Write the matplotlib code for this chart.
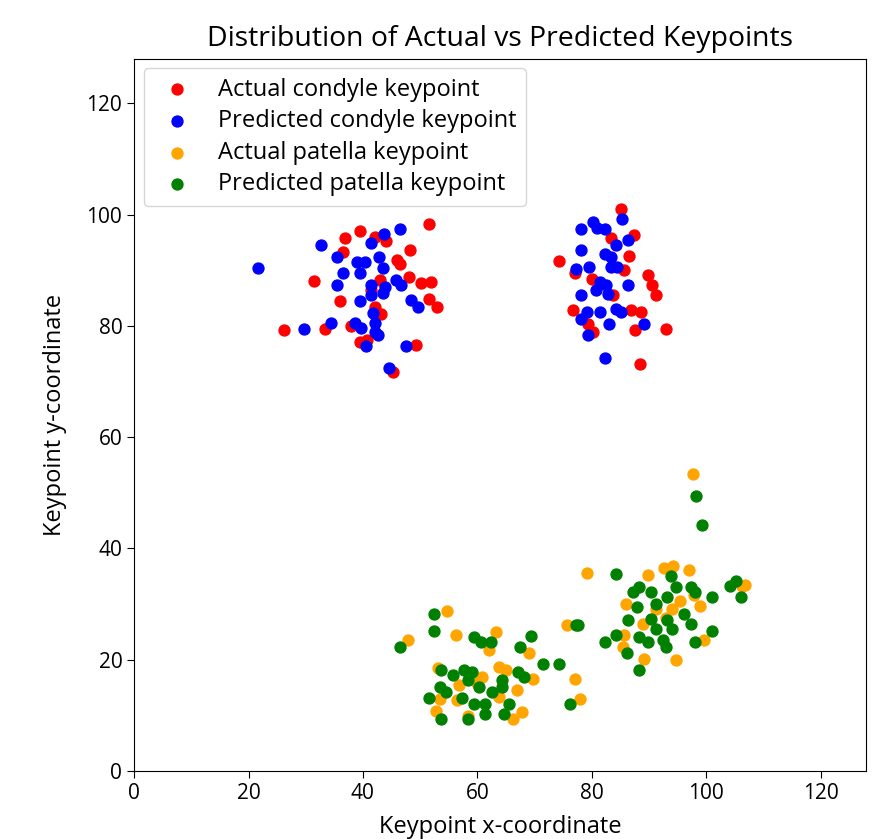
import matplotlib
matplotlib.use("Agg")
import matplotlib.pyplot as plt

plt.rcParams["font.family"] = ["Open Sans", "DejaVu Sans"]

# condyle keypoints (x, y)
actual_condyle_x = [51.6, 39.5, 36.8, 44.0, 42.1, 48.2, 36.6, 46.0, 46.4, 31.5, 48.1, 50.1,
                    51.9, 43.0, 36.0, 51.6, 52.9, 42.1, 43.2, 26.2, 33.3, 38.0, 39.5, 40.8,
                    49.3, 45.3, 41.5,
                    85.1, 87.4, 83.4, 86.6, 74.3, 89.9, 90.6, 91.2, 77.0, 85.7, 76.8, 88.6,
                    87.6, 92.9, 80.2, 79.4, 88.5, 83.7, 86.9, 80.0]
actual_condyle_y = [98.3, 97.0, 95.8, 95.2, 96.0, 93.6, 93.3, 91.8, 91.2, 88.1, 88.7, 87.7,
                    87.9, 88.2, 84.5, 84.8, 83.3, 83.4, 82.2, 79.3, 79.5, 79.9, 77.1, 77.4,
                    76.5, 71.7, 86.4,
                    101.0, 96.3, 95.7, 92.6, 91.6, 89.1, 87.3, 85.5, 89.5, 90.0, 82.8, 82.5,
                    79.2, 79.4, 78.9, 80.4, 73.2, 85.5, 82.8, 88.5]

pred_condyle_x = [21.7, 32.7, 46.5, 43.6, 41.5, 35.5, 38.9, 40.3, 42.9, 43.5, 36.6, 39.5,
                  35.5, 41.5, 43.8, 45.8, 46.7, 43.5, 41.5, 39.5, 48.4, 49.6, 41.8, 34.5,
                  38.6, 29.7, 39.7, 42.1, 42.1, 42.7, 40.5, 47.5, 44.5,
                  85.3, 80.2, 78.2, 82.3, 81.0, 86.3, 84.3, 78.2, 82.4, 83.4, 77.3, 79.6,
                  83.4, 84.5, 81.4, 82.5, 86.3, 80.8, 78.2, 82.8, 84.3, 85.1, 81.4, 79.1,
                  78.2, 89.2, 83.1, 79.4, 82.3]
pred_condyle_y = [90.4, 94.5, 97.4, 96.5, 94.8, 92.4, 91.5, 91.5, 92.4, 90.4, 89.5, 89.5,
                  87.3, 87.3, 87.0, 88.2, 87.3, 85.9, 85.5, 84.5, 84.6, 83.4, 82.3, 80.5,
                  80.5, 79.4, 79.6, 80.5, 78.9, 78.3, 76.3, 76.4, 72.4,
                  99.2, 98.7, 97.4, 97.4, 97.6, 95.4, 94.5, 93.6, 93.0, 92.4, 90.3, 90.5,
                  90.6, 90.6, 87.9, 87.3, 87.4, 86.4, 85.5, 85.8, 83.1, 82.5, 82.5, 82.4,
                  81.3, 80.4, 80.4, 78.3, 74.2]

# patella keypoints (x, y)
actual_patella_x = [54.7, 47.9, 56.2, 63.2, 62.0, 69.0, 75.6, 53.1, 63.8, 60.9, 69.8, 77.1,
                    56.8, 66.9, 53.4, 56.5, 63.8, 77.9, 52.8, 67.8, 66.2, 58.3, 60.0, 65.0,
                    97.7, 79.1, 89.8, 92.7, 94.2, 97.0, 106.2, 86.0, 94.1, 99.0, 88.9, 85.7,
                    99.6, 85.4, 89.2, 94.8, 91.2, 97.9, 106.8, 93.0, 95.5]
actual_patella_y = [28.8, 23.5, 24.4, 25.0, 21.7, 21.2, 26.2, 18.6, 18.7, 16.9, 16.6, 16.6,
                    15.4, 14.5, 13.0, 12.8, 13.3, 13.0, 10.8, 10.6, 9.4, 9.9, 15.8, 18.2,
                    53.4, 35.6, 35.2, 36.4, 36.8, 36.1, 33.2, 30.1, 29.2, 29.6, 26.5, 24.4,
                    23.5, 22.3, 20.2, 20.0, 29.2, 31.6, 33.5, 27.5, 30.5]

pred_patella_x = [52.5, 52.5, 46.4, 59.5, 60.6, 62.4, 69.4, 67.4, 77.3, 53.6, 57.7, 59.1,
                  55.7, 67.2, 68.1, 71.4, 74.3, 64.3, 58.3, 53.4, 54.5, 60.3, 64.3, 62.6,
                  51.6, 57.4, 59.5, 61.4, 65.5, 64.6, 61.4, 53.6, 58.4, 76.2,
                  98.3, 99.2, 84.3, 93.8, 88.3, 87.2, 90.3, 94.7, 97.3, 98.1, 93.2, 101.1,
                  104.2, 105.3, 106.1, 91.2, 88.0, 96.1, 86.3, 90.3, 93.2, 97.3, 91.2, 94.1,
                  101.0, 77.6, 84.3, 82.4, 88.3, 89.8, 92.4, 92.9, 98.1, 86.2, 88.2]
pred_patella_y = [28.2, 25.2, 22.2, 24.1, 23.2, 23.2, 24.2, 22.2, 26.2, 18.1, 18.1, 17.8,
                  17.2, 17.8, 16.9, 19.3, 19.2, 16.3, 16.3, 15.1, 14.2, 15.1, 15.1, 14.2,
                  13.2, 13.2, 12.1, 12.1, 12.1, 10.3, 10.2, 9.3, 9.3, 12.1,
                  49.4, 44.3, 35.4, 35.0, 33.1, 32.2, 32.2, 33.1, 33.1, 32.2, 31.3, 31.3,
                  33.2, 34.2, 31.3, 30.1, 29.5, 28.3, 27.2, 27.4, 27.1, 26.4, 25.6, 25.6,
                  25.2, 26.2, 24.4, 23.2, 24.1, 23.2, 23.5, 22.3, 23.2, 21.2, 18.2]

fig = plt.figure(figsize=(8.94, 8.39), dpi=100)
ax = fig.add_axes([0.150, 0.081, 0.819, 0.849])

ax.scatter(actual_condyle_x, actual_condyle_y, c="red", s=62, label="Actual condyle keypoint")
ax.scatter(pred_condyle_x, pred_condyle_y, c="blue", s=62, label="Predicted condyle keypoint")
ax.scatter(actual_patella_x, actual_patella_y, c="orange", s=62, label="Actual patella keypoint")
ax.scatter(pred_patella_x, pred_patella_y, c="green", s=62, label="Predicted patella keypoint")

ax.set_xlim(0, 128)
ax.set_ylim(0, 128)
ax.set_xticks([0, 20, 40, 60, 80, 100, 120])
ax.set_yticks([0, 20, 40, 60, 80, 100, 120])
ax.tick_params(labelsize=15, length=5)
ax.set_xlabel("Keypoint x-coordinate", fontsize=17, labelpad=8)
ax.set_ylabel("Keypoint y-coordinate", fontsize=17, labelpad=14)
ax.set_title("Distribution of Actual vs Predicted Keypoints", fontsize=20.4, pad=9)
ax.legend(loc="upper left", fontsize=17, borderaxespad=0.4, handletextpad=0.75,
          labelspacing=0.32, borderpad=0.4)

fig.savefig("out.png", dpi=100)
